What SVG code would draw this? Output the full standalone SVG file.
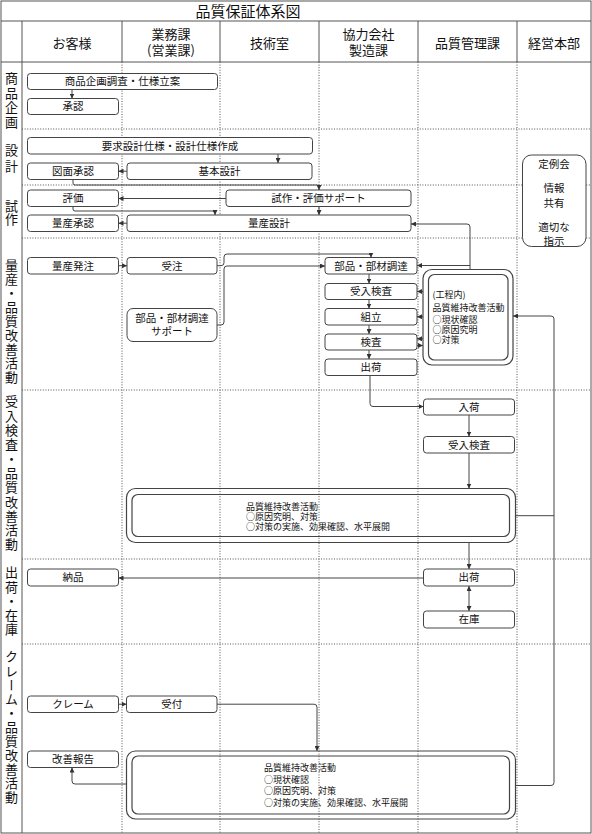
<svg xmlns="http://www.w3.org/2000/svg" width="592" height="834" viewBox="0 0 592 834">
<style>
text{font-family:"Noto Sans CJK JP","Noto Sans",sans-serif;fill:#111}
.t{font-size:10.5px;text-anchor:middle}
.s{font-size:9px}
.h{font-size:13px;text-anchor:middle}
.v{font-size:13px;writing-mode:vertical-rl}
.b{fill:#fff;stroke:#444;stroke-width:1}
.d{fill:none;stroke:#444;stroke-width:1.2}
.grid{stroke:#555;stroke-width:1;fill:none}
.dot{stroke:#555;stroke-width:1;stroke-dasharray:1 1.6;fill:none}
.c{fill:none;stroke:#444;stroke-width:1}
</style>
<defs>
<marker id="a" viewBox="0 0 6 6" refX="6" refY="3" markerWidth="5" markerHeight="5" markerUnits="userSpaceOnUse" orient="auto-start-reverse"><path d="M0,0L6,3L0,6z" fill="#333"/></marker>
</defs>
<rect width="592" height="834" fill="#fff"/>
<g id="grid">
<rect class="grid" x="1" y="1" width="590" height="832" stroke-width="1.5"/>
<line class="grid" x1="1" y1="21" x2="591" y2="21"/>
<line class="grid" x1="1" y1="62" x2="591" y2="62"/>
<line class="grid" x1="22" y1="21" x2="22" y2="833"/>
<line class="grid" x1="122" y1="21" x2="122" y2="62"/>
<line class="grid" x1="220" y1="21" x2="220" y2="62"/>
<line class="grid" x1="319" y1="21" x2="319" y2="62"/>
<line class="grid" x1="418" y1="21" x2="418" y2="62"/>
<line class="grid" x1="517" y1="21" x2="517" y2="62"/>
<line class="dot" x1="122" y1="62" x2="122" y2="833"/>
<line class="dot" x1="220" y1="62" x2="220" y2="833"/>
<line class="dot" x1="319" y1="62" x2="319" y2="833"/>
<line class="dot" x1="418" y1="62" x2="418" y2="833"/>
<line class="dot" x1="517" y1="62" x2="517" y2="833"/>
<line class="dot" x1="22" y1="129" x2="591" y2="129"/>
<line class="dot" x1="22" y1="185" x2="591" y2="185"/>
<line class="dot" x1="22" y1="238" x2="591" y2="238"/>
<line class="dot" x1="22" y1="390" x2="591" y2="390"/>
<line class="dot" x1="22" y1="559" x2="591" y2="559"/>
<line class="dot" x1="22" y1="644" x2="591" y2="644"/>
</g>
<g id="headers">
<text x="248" y="17" style="font-size:15px;text-anchor:middle">品質保証体系図</text>
<text class="h" x="72" y="47.5">お客様</text>
<text class="h" x="171" y="38.8">業務課</text>
<text class="h" x="171" y="54.5">(営業課)</text>
<text class="h" x="269.5" y="47.5">技術室</text>
<text class="h" x="368.5" y="38.8">協力会社</text>
<text class="h" x="368.5" y="54.5">製造課</text>
<text class="h" x="467.5" y="47.5">品質管理課</text>
<text class="h" x="554" y="47.5">経営本部</text>
</g>
<g id="phases">
<text class="v" x="11.5" y="71.5" letter-spacing="1.7">商品企画</text>
<text class="v" x="11.5" y="143.5" letter-spacing="3">設計</text>
<text class="v" x="11.5" y="200" letter-spacing="0">試作</text>
<text class="v" x="11.5" y="258.5" letter-spacing="1">量産・品質改善活動</text>
<text class="v" x="11.5" y="395" letter-spacing="1.3">受入検査・品質改善活動</text>
<text class="v" x="11.5" y="566" letter-spacing="1.2">出荷・在庫</text>
<text class="v" x="11.5" y="650" letter-spacing="1.1">クレーム・品質改善活動</text>
</g>
<g id="n1"><rect class="b" x="27.5" y="73.5" width="190" height="16" rx="3"/><text class="t" x="122.5" y="85.3">商品企画調査・仕様立案</text></g>
<g id="n2"><rect class="b" x="27.5" y="98.5" width="91" height="16" rx="3"/><text class="t" x="73" y="110.3">承認</text></g>
<g id="n3"><rect class="b" x="27.5" y="137.5" width="285" height="16.5" rx="3"/><text class="t" x="170" y="149.5">要求設計仕様・設計仕様作成</text></g>
<g id="n4"><rect class="b" x="27.5" y="163" width="91" height="16.5" rx="3"/><text class="t" x="73" y="175">図面承認</text></g>
<g id="n5"><rect class="b" x="127" y="163" width="185" height="16.5" rx="3"/><text class="t" x="219.5" y="175">基本設計</text></g>
<g id="n6"><rect class="b" x="27.5" y="190" width="91" height="16.5" rx="3"/><text class="t" x="73" y="202">評価</text></g>
<g id="n7"><rect class="b" x="226" y="190" width="185" height="16.5" rx="3"/><text class="t" x="318.5" y="202">試作・評価サポート</text></g>
<g id="n8"><rect class="b" x="27.5" y="215" width="91" height="16.5" rx="3"/><text class="t" x="73" y="227">量産承認</text></g>
<g id="n9"><rect class="b" x="127" y="215" width="284" height="16.5" rx="3"/><text class="t" x="269" y="227">量産設計</text></g>
<g id="n10"><rect class="b" x="522.5" y="155" width="63.5" height="91.5" rx="9"/>
<text class="t" x="554" y="167.8">定例会</text>
<text class="t" x="554" y="191.8">情報</text>
<text class="t" x="554" y="206.8">共有</text>
<text class="t" x="554" y="230.8">適切な</text>
<text class="t" x="554" y="245.3">指示</text></g>
<g id="n11"><rect class="b" x="27.5" y="257.5" width="91" height="16.5" rx="3"/><text class="t" x="73" y="269.5">量産発注</text></g>
<g id="n12"><rect class="b" x="127" y="257.5" width="90" height="16.5" rx="3"/><text class="t" x="172" y="269.5">受注</text></g>
<g id="n13"><rect class="b" x="127" y="308.5" width="90" height="33" rx="6"/><text class="t" x="172" y="322">部品・部材調達</text><text class="t" x="172" y="335">サポート</text></g>
<g id="n14"><rect class="b" x="325" y="257.5" width="92" height="16.5" rx="3"/><text class="t" x="371" y="269.5">部品・部材調達</text></g>
<g id="n15"><rect class="b" x="325" y="283.5" width="92" height="16" rx="3"/><text class="t" x="371" y="295.3">受入検査</text></g>
<g id="n16"><rect class="b" x="325" y="308.5" width="92" height="16.5" rx="3"/><text class="t" x="371" y="320.5">組立</text></g>
<g id="n17"><rect class="b" x="325" y="334" width="92" height="16" rx="3"/><text class="t" x="371" y="345.8">検査</text></g>
<g id="n18"><rect class="b" x="325" y="359" width="92" height="16.5" rx="3"/><text class="t" x="371" y="371">出荷</text></g>
<g id="n19"><rect class="d" x="423" y="269.5" width="90" height="95.5" rx="9"/><rect class="d" x="428.5" y="274.5" width="79.5" height="85.5" rx="6"/>
<text class="s" x="432.5" y="298.3">(工程内)</text>
<text class="s" x="432.5" y="311">品質維持改善活動</text>
<text class="s" x="432.5" y="322.6">○現状確認</text>
<text class="s" x="432.5" y="332.8">○原因究明</text>
<text class="s" x="432.5" y="343.3">○対策</text></g>
<g id="n20"><rect class="b" x="423.5" y="399" width="91" height="16" rx="3"/><text class="t" x="469" y="410.8">入荷</text></g>
<g id="n21"><rect class="b" x="423.5" y="436.5" width="91" height="16.5" rx="3"/><text class="t" x="469" y="448.5">受入検査</text></g>
<g id="n22"><rect class="d" x="126.5" y="488.5" width="389" height="54" rx="9"/><rect class="d" x="132" y="494.5" width="377.5" height="42" rx="6"/>
<text class="s" x="246" y="510">品質維持改善活動</text>
<text class="s" x="246" y="520">○原因究明、対策</text>
<text class="s" x="246" y="530">○対策の実施、効果確認、水平展開</text></g>
<g id="n23"><rect class="b" x="27.5" y="569" width="91" height="17" rx="3"/><text class="t" x="73" y="581.3">納品</text></g>
<g id="n24"><rect class="b" x="423.5" y="569" width="91" height="17" rx="3"/><text class="t" x="469" y="581.3">出荷</text></g>
<g id="n25"><rect class="b" x="423.5" y="611" width="91" height="17" rx="3"/><text class="t" x="469" y="623.3">在庫</text></g>
<g id="n26"><rect class="b" x="27.5" y="696" width="91" height="16.5" rx="3"/><text class="t" x="73" y="708">クレーム</text></g>
<g id="n27"><rect class="b" x="126.5" y="696" width="90.5" height="16.5" rx="3"/><text class="t" x="171.7" y="708">受付</text></g>
<g id="n28"><rect class="b" x="27.5" y="751" width="91" height="16.5" rx="3"/><text class="t" x="73" y="763">改善報告</text></g>
<g id="n29"><rect class="d" x="126.5" y="751" width="389" height="68" rx="9"/><rect class="d" x="132" y="756" width="377.5" height="58" rx="6"/>
<text class="s" x="264" y="771">品質維持改善活動</text>
<text class="s" x="264" y="782.6">○現状確認</text>
<text class="s" x="264" y="794.3">○原因究明、対策</text>
<text class="s" x="264" y="806">○対策の実施、効果確認、水平展開</text></g>
<g id="connectors" class="c">
<path class="c" d="M72,89.5V98.5" marker-end="url(#a)"/>
<path class="c" d="M278,154V163" marker-end="url(#a)"/>
<path class="c" d="M127,171.2H118.5" marker-end="url(#a)"/>
<path class="c" d="M73,179.5V183Q73,185 75,185H317Q319,185 319,187V190" marker-end="url(#a)"/>
<path class="c" d="M226,198.5H118.5" marker-end="url(#a)"/>
<path class="c" d="M73,206.5V209Q73,211 75,211H213Q215,211 215,213V215" marker-end="url(#a)"/>
<path class="c" d="M319,206.5V215" marker-end="url(#a)"/>
<path class="c" d="M127,223.2H118.5" marker-end="url(#a)"/>
<path class="c" d="M470,269.5V227Q470,224 467,224H411" marker-end="url(#a)"/>
<path class="c" d="M470,265.5H417" marker-end="url(#a)"/>
<path class="c" d="M118.5,265.7H127" marker-end="url(#a)"/>
<path class="c" d="M217,265.7H221Q224,265.7 224,262.7V257Q224,254 227,254H368Q371,254 371,256V257.5" marker-end="url(#a)"/>
<path class="c" d="M217,325H221Q224,325 224,322V269Q224,266 227,266H325" marker-end="url(#a)"/>
<path class="c" d="M369,274V283.5" marker-end="url(#a)"/>
<path class="c" d="M369,299.5V308.5" marker-end="url(#a)"/>
<path class="c" d="M369,325V334" marker-end="url(#a)"/>
<path class="c" d="M369,350V359" marker-end="url(#a)"/>
<path class="c" d="M423,291.5H417" marker-end="url(#a)"/>
<path class="c" d="M423,316.7H417" marker-end="url(#a)"/>
<path class="c" d="M423,338.8H417" marker-end="url(#a)"/>
<path class="c" d="M417,345.5H423" marker-end="url(#a)"/>
<path class="c" d="M370,375.5V403.5Q370,406.5 373,406.5H423.5" marker-end="url(#a)"/>
<path class="c" d="M469,415V436.5" marker-end="url(#a)"/>
<path class="c" d="M469,453V488.5" marker-end="url(#a)"/>
<path class="c" d="M469,542.5V569" marker-end="url(#a)"/>
<path class="c" d="M423.5,578H118.5" marker-end="url(#a)"/>
<path class="c" d="M469,586V611" marker-start="url(#a)" marker-end="url(#a)"/>
<path class="c" d="M515.5,785.5H551Q554,785.5 554,782.5V319Q554,316 551,316H513" marker-end="url(#a)"/>
<path class="c" d="M515.5,515.7H554"/>
<path class="c" d="M118.5,704.2H126.5" marker-end="url(#a)"/>
<path class="c" d="M217,704.2H314Q317,704.2 317,707.2V751" marker-end="url(#a)"/>
<path class="c" d="M126.5,784H75Q72,784 72,781V767.5" marker-end="url(#a)"/>
</g>
</svg>
